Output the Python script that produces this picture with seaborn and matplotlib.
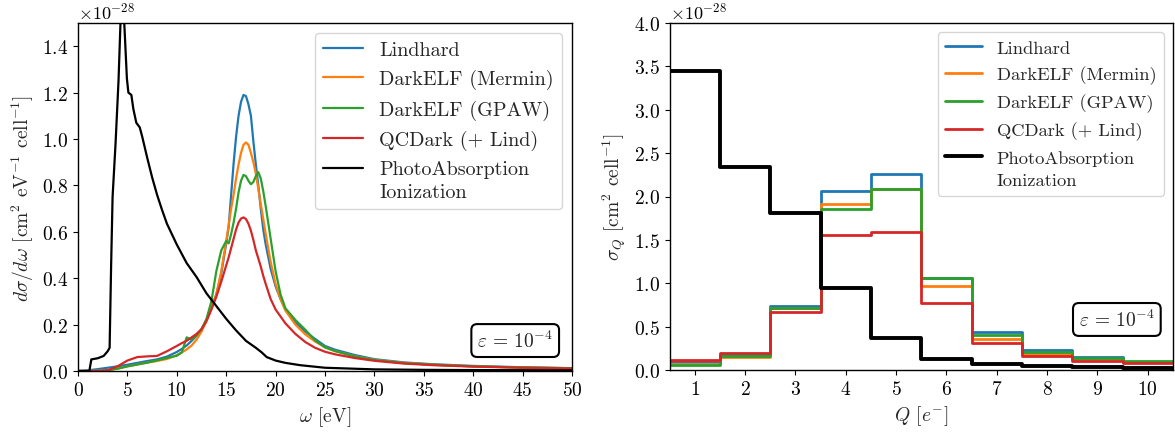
import numpy as np
import pandas as pd
import matplotlib
matplotlib.use("Agg")
import matplotlib.pyplot as plt
from matplotlib.lines import Line2D
from matplotlib.legend_handler import HandlerLine2D
import seaborn as sns

# ---- left panel: differential rate vs omega (units of 1e-28) ----
omega = [0, 1, 2, 3, 4, 5, 6, 7, 8, 9, 10, 10.5, 11, 11.5, 12, 12.5, 13, 13.5, 14, 14.5,
         15, 15.25, 15.5, 15.75, 16, 16.25, 16.5, 16.75, 17, 17.25, 17.5, 17.75, 18, 18.25,
         18.5, 18.75, 19, 19.5, 20, 20.5, 21, 22, 23, 24, 25, 26, 28, 30, 33, 36, 40, 45, 50]

lindhard_w = [0, 0.003, 0.008, 0.014, 0.02, 0.027, 0.035, 0.043, 0.05, 0.062, 0.082, 0.095,
              0.11, 0.13, 0.152, 0.18, 0.22, 0.27, 0.33, 0.42, 0.55, 0.62, 0.76, 0.895, 1.01,
              1.10, 1.16, 1.19, 1.185, 1.15, 1.10, 0.99, 0.89, 0.80, 0.70, 0.61, 0.545, 0.44,
              0.365, 0.31, 0.265, 0.21, 0.17, 0.138, 0.108, 0.092, 0.069, 0.051, 0.037, 0.029,
              0.022, 0.016, 0.012]
mermin_w = [0, 0, 0.001, 0.004, 0.01, 0.02, 0.028, 0.036, 0.043, 0.052, 0.068, 0.08, 0.093,
            0.11, 0.135, 0.17, 0.215, 0.27, 0.33, 0.43, 0.56, 0.63, 0.70, 0.76, 0.83, 0.89,
            0.94, 0.975, 0.985, 0.975, 0.94, 0.90, 0.85, 0.785, 0.72, 0.655, 0.59, 0.47, 0.375,
            0.31, 0.26, 0.2, 0.158, 0.127, 0.102, 0.086, 0.064, 0.048, 0.035, 0.027, 0.02,
            0.015, 0.012]
gpaw_w = [0, 0, 0, 0.003, 0.01, 0.02, 0.028, 0.036, 0.046, 0.056, 0.066, 0.08, 0.145, 0.135,
          0.155, 0.18, 0.224, 0.30, 0.43, 0.52, 0.56, 0.55, 0.59, 0.64, 0.70, 0.77, 0.82, 0.845,
          0.84, 0.82, 0.805, 0.815, 0.84, 0.857, 0.83, 0.775, 0.71, 0.57, 0.43, 0.33, 0.27,
          0.22, 0.178, 0.132, 0.102, 0.086, 0.063, 0.047, 0.034, 0.027, 0.02, 0.015, 0.012]
qcdark_w = [0, 0, 0, 0.003, 0.02, 0.045, 0.06, 0.063, 0.065, 0.085, 0.108, 0.12, 0.13, 0.145,
            0.16, 0.18, 0.215, 0.265, 0.32, 0.385, 0.455, 0.49, 0.53, 0.57, 0.61, 0.64, 0.657,
            0.662, 0.655, 0.635, 0.605, 0.565, 0.52, 0.485, 0.45, 0.41, 0.375, 0.31, 0.265,
            0.235, 0.205, 0.16, 0.125, 0.1, 0.083, 0.072, 0.056, 0.044, 0.032, 0.025, 0.019,
            0.014, 0.011]

omega_pai = [0, 1.15, 1.35, 2.0, 2.6, 3.0, 3.2, 3.35, 3.5, 3.8, 4.1, 4.3, 4.5, 4.66, 4.95,
             5.1, 5.4, 5.6, 5.9, 6.25, 6.5, 7.0, 7.5, 8.0, 8.5, 9.0, 10.0, 11.0, 12.0, 13.0,
             14.0, 15.0, 16.0, 17.0, 18.0, 18.6, 19.1, 20.0, 21.0, 22.5, 25, 30, 35, 40, 50]
pai_w = [0, 0, 0.05, 0.055, 0.065, 0.085, 0.1, 0.45, 0.75, 0.98, 1.25, 1.5, 1.75, 1.52, 1.26,
         1.2, 1.19, 1.13, 1.07, 1.05, 1.01, 0.92, 0.835, 0.76, 0.695, 0.635, 0.545, 0.465,
         0.405, 0.335, 0.28, 0.225, 0.175, 0.13, 0.1, 0.08, 0.06, 0.045, 0.035, 0.025, 0.014,
         0.007, 0.005, 0.004, 0.003]

# ---- right panel: binned rate vs Q (units of 1e-28) ----
Q = [1, 2, 3, 4, 5, 6, 7, 8, 9, 10]
lindhard_q = [0.09, 0.17, 0.738, 2.065, 2.265, 1.065, 0.44, 0.23, 0.15, 0.096]
mermin_q = [0.07, 0.145, 0.72, 1.91, 2.09, 0.97, 0.355, 0.19, 0.123, 0.09]
gpaw_q = [0.06, 0.165, 0.71, 1.86, 2.09, 1.065, 0.40, 0.205, 0.135, 0.10]
qcdark_q = [0.11, 0.2, 0.673, 1.555, 1.596, 0.77, 0.315, 0.165, 0.10, 0.08]
pai_q = [3.45, 2.335, 1.815, 0.95, 0.365, 0.13, 0.07, 0.046, 0.035, 0.027]

labels = ["Lindhard", "DarkELF (Mermin)", "DarkELF (GPAW)", "QCDark (+ Lind)",
          "PhotoAbsorption\nIonization"]
colors = ["#1f77b4", "#ff7f0e", "#2ca02c", "#d62728", "black"]
scale = 1e-28


class FirstLineHandler(HandlerLine2D):
    # put the legend line next to the first line of a two-line label
    def __init__(self, shift, **kw):
        super().__init__(**kw)
        self.shift = shift

    def create_artists(self, legend, orig_handle, xdescent, ydescent, width, height,
                       fontsize, trans):
        arts = super().create_artists(legend, orig_handle, xdescent, ydescent, width,
                                      height, fontsize, trans)
        for a in arts:
            a.set_ydata(np.asarray(a.get_ydata()) + self.shift * fontsize)
        return arts


def make_legend(ax, handles, fs, spacing, shift, linesp):
    leg = ax.legend(handles, labels, loc="upper right", fontsize=fs, labelspacing=spacing,
                    handler_map={handles[-1]: FirstLineHandler(shift)})
    leg.get_texts()[-1].set_linespacing(linesp)
    return leg


sns.set_style("ticks")
plt.rcParams.update({
    "font.family": "serif",
    "font.serif": ["cmr10", "DejaVu Serif"],
    "mathtext.fontset": "cm",
    "axes.unicode_minus": False,
    "axes.formatter.use_mathtext": True,
    "font.size": 14,
    "axes.edgecolor": "black",
    "xtick.color": "black",
    "ytick.color": "black",
    "axes.linewidth": 1.0,
})

fig = plt.figure(figsize=(11.75, 4.35), dpi=100)
ax1 = fig.add_axes([78 / 1175, 1 - 372 / 435, 494 / 1175, 348 / 435])
ax2 = fig.add_axes([669.6 / 1175, 1 - 371 / 435, 503.4 / 1175, 347 / 435])

eps_label = r"$\varepsilon\,=\,10^{-4}$"

# left
w_series = [lindhard_w, mermin_w, gpaw_w, qcdark_w]
for vals, c in zip(w_series, colors[:4]):
    sns.lineplot(x=omega, y=np.array(vals) * scale, color=c, lw=1.6, ax=ax1)
sns.lineplot(x=omega_pai, y=np.array(pai_w) * scale, color="black", lw=1.6, ax=ax1)

ax1.set_xlim(0, 50)
ax1.set_ylim(0, 1.5e-28)
ax1.set_xticks(np.arange(0, 51, 5))
ax1.set_xlabel(r"$\omega$ [eV]")
ax1.set_ylabel(r"$d\sigma/d\omega$ [cm$^2$ eV$^{-1}$ cell$^{-1}$]")
ax1.yaxis.get_offset_text().set_fontsize(13)
h1 = [Line2D([], [], color=c, lw=1.6) for c in colors]
make_legend(ax1, h1, 14.5, 0.5, 0.6, 1.35)
ax1.text(0.962, 0.057, eps_label, transform=ax1.transAxes,
         ha="right", va="bottom", fontsize=14,
         bbox=dict(boxstyle="round,pad=0.3", fc="white", ec="black", lw=1.5))

# right
q_series = [lindhard_q, mermin_q, gpaw_q, qcdark_q]
for vals, c in zip(q_series, colors[:4]):
    sns.histplot(x=Q, weights=np.array(vals) * scale, discrete=True, element="step",
                 fill=False, color=c, lw=2.0, ax=ax2)
sns.histplot(x=Q, weights=np.array(pai_q) * scale, discrete=True, element="step",
             fill=False, color="black", lw=2.8, ax=ax2)

ax2.set_xlim(0.5, 10.5)
ax2.set_ylim(0, 4e-28)
ax2.set_xticks(Q)
ax2.set_xlabel(r"$Q$ [$e^{-}$]")
ax2.set_ylabel(r"$\sigma_Q$ [cm$^2$ cell$^{-1}$]")
ax2.yaxis.get_offset_text().set_fontsize(13)
h2 = [Line2D([], [], color=c, lw=2.0) for c in colors[:4]] + \
     [Line2D([], [], color="black", lw=2.8)]
make_legend(ax2, h2, 13.3, 0.52, 0.7, 1.6)
ax2.text(0.964, 0.115, eps_label, transform=ax2.transAxes,
         ha="right", va="bottom", fontsize=14,
         bbox=dict(boxstyle="round,pad=0.3", fc="white", ec="black", lw=1.5))

fig.savefig("out.png", dpi=100)
